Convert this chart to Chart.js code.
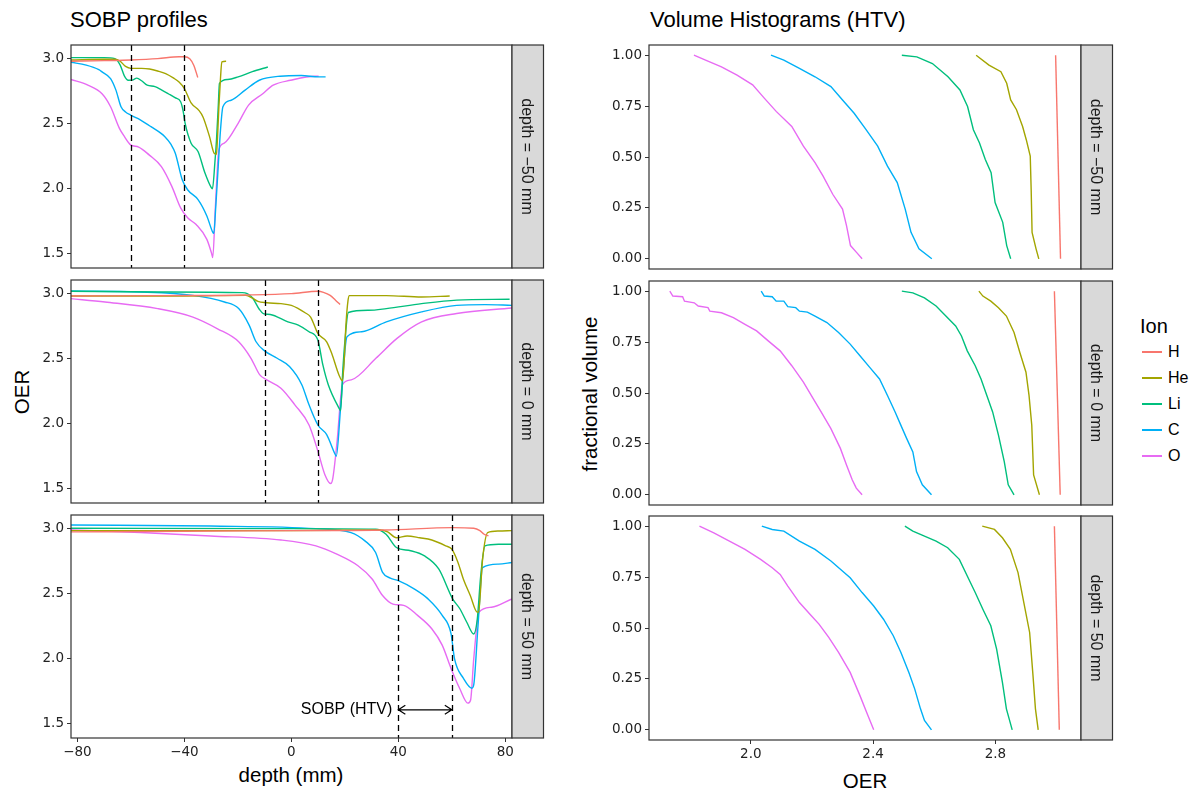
<!DOCTYPE html>
<html>
<head>
<meta charset="utf-8">
<script src="https://cdn.jsdelivr.net/npm/chart.js@4.4.1/dist/chart.umd.min.js"></script>
<style>
body { margin: 0; background: #fff; width: 1194px; height: 793px; position: relative; overflow: hidden;
       font-family: "Liberation Sans", Arial, sans-serif; }
canvas { position: absolute; }
.t { position: absolute; white-space: nowrap; color: #000; line-height: 1; }
.key { position: absolute; width: 20px; height: 1.5px; }
</style>
</head>
<body>
<div class="t" style="left:70px;top:9px;font-size:22px">SOBP profiles</div>
<div class="t" style="left:650px;top:9px;font-size:22px">Volume Histograms (HTV)</div>
<div class="t" style="left:291px;top:765px;font-size:20.5px;transform:translateX(-50%)">depth (mm)</div>
<div class="t" style="left:865px;top:771px;font-size:20.5px;transform:translateX(-50%)">OER</div>
<div class="t" style="left:22px;top:392px;font-size:20.5px;transform:translate(-50%,-50%) rotate(-90deg)">OER</div>
<div class="t" style="left:590px;top:394px;font-size:20.5px;transform:translate(-50%,-50%) rotate(-90deg)">fractional volume</div>
<div id="legend"></div>

<script>
'use strict';
// ions and colours (ggplot hue palette)
const ionNames = ['H', 'He', 'Li', 'C', 'O'];
const ionColors = ['#F8766D', '#A3A500', '#00BF7D', '#00B0F6', '#E76BF3'];
const depthLabels = ['depth = \u221250 mm', 'depth = 0 mm', 'depth = 50 mm'];

// tick labels
const depthTicks = [-80, -40, 0, 40, 80];
const oerTicks = [1.5, 2.0, 2.5, 3.0];
const htvOerTicks = [2.0, 2.4, 2.8];
const fracTicks = [0, 0.25, 0.5, 0.75, 1];

// SOBP window (dashed lines) per row, arrow height in row 3
const sobpWindows = [[-60, -40], [-10, 10], [40, 60]];
const arrowY = 1.607;
const arrowText = 'SOBP (HTV)';

// ---- SOBP profiles: [depth mm, OER] ----
// depth = -50 mm
const sobpM50H = [[-82.4,2.98],[-70,2.985],[-60,2.99],[-50,3.0],[-42,3.015],[-40,3.015],[-38,3.0],[-36.5,2.95],[-35,2.855]];
const sobpM50He = [[-82.4,2.99],[-70,2.995],[-66,2.995],[-64,2.98],[-62,2.94],[-60,2.925],[-56,2.925],[-53,2.92],[-50,2.905],[-47,2.885],[-44,2.85],[-42,2.82],[-40,2.77],[-37.5,2.66],[-34.5,2.6],[-33,2.55],[-30.6,2.4],[-28.8,2.27],[-28,2.265],[-27.6,2.4],[-27.1,2.63],[-26.5,2.85],[-26,2.975],[-24.4,2.98]];
const sobpM50Li = [[-82.4,3.008],[-70,3.008],[-66,3.0],[-64,2.95],[-62.5,2.87],[-61,2.834],[-59.5,2.835],[-57.8,2.85],[-56,2.83],[-53.9,2.796],[-51,2.785],[-48.6,2.76],[-46,2.73],[-43.5,2.7],[-41.4,2.668],[-40.5,2.6],[-39.7,2.5],[-37.5,2.35],[-34.9,2.286],[-32.3,2.12],[-30,2.01],[-29.5,2.0],[-28.6,2.2],[-28,2.375],[-27.3,2.65],[-26.9,2.81],[-23.8,2.84],[-19.9,2.86],[-14.6,2.9],[-8.8,2.936]];
const sobpM50C = [[-82.4,2.972],[-76.7,2.95],[-72,2.915],[-70.8,2.898],[-67.6,2.847],[-65.6,2.758],[-63.7,2.63],[-62,2.59],[-60.1,2.566],[-56.5,2.53],[-52.5,2.477],[-47.3,2.4],[-45,2.34],[-43.4,2.273],[-40.8,2.069],[-38.8,1.992],[-34.9,1.916],[-31.6,1.79],[-29.5,1.67],[-29,1.656],[-28.3,1.85],[-27.5,2.12],[-26.5,2.45],[-25.6,2.63],[-22.5,2.68],[-17.3,2.758],[-12,2.834],[-4.2,2.865],[3.7,2.87],[10.2,2.86],[12.8,2.86]];
const sobpM50O = [[-82.4,2.84],[-76.1,2.796],[-70.8,2.73],[-67.6,2.63],[-64.3,2.464],[-62.4,2.4],[-60.1,2.337],[-57.1,2.32],[-53.2,2.26],[-48.6,2.17],[-44.7,2.018],[-41.4,1.852],[-38.8,1.776],[-35.6,1.724],[-31.6,1.61],[-29.8,1.5],[-29.4,1.47],[-28.4,1.865],[-27.1,2.3],[-25.1,2.35],[-19.9,2.503],[-16,2.643],[-10.7,2.73],[-6.8,2.796],[-0.3,2.834],[8.9,2.865],[10.2,2.865]];
// depth = 0 mm
const sobp0H = [[-82.5,2.982],[-50,2.985],[-17,2.99],[0,3.0],[10,3.018],[12,3.01],[14.5,2.987],[16.5,2.95],[18.2,2.916]];
const sobp0He = [[-82.5,2.982],[-40,2.982],[-17,2.987],[-14.5,2.965],[-12.5,2.94],[-9.2,2.93],[-3.9,2.923],[0,2.91],[2.6,2.885],[5,2.855],[7.2,2.82],[9.9,2.694],[13.2,2.63],[15.1,2.54],[17.8,2.375],[19.1,2.33],[19.8,2.5],[20.4,2.758],[21.2,2.95],[21.7,2.985],[35.5,2.985],[48.7,2.974],[59.2,2.982]];
const sobp0Li = [[-82.5,3.018],[-50,3.013],[-18.4,3.008],[-16.5,3.0],[-14.5,2.967],[-12,2.88],[-10.5,2.847],[-7.9,2.84],[-1.3,2.783],[2.6,2.758],[6.6,2.707],[9.9,2.643],[11.8,2.45],[13.8,2.3],[17.8,2.12],[18.4,2.1],[19.2,2.4],[20,2.63],[21.3,2.855],[28.9,2.872],[35.5,2.885],[48.7,2.923],[61.8,2.95],[81.6,2.957]];
const sobp0C = [[-82.5,3.02],[-56.6,3.013],[-36.8,2.987],[-25,2.936],[-19.7,2.885],[-15.8,2.758],[-13.2,2.63],[-10,2.56],[-5.3,2.503],[-0.7,2.44],[3.9,2.3],[6.6,2.145],[9.9,1.99],[13.2,1.916],[16.4,1.763],[16.8,1.75],[18.4,2.12],[20.8,2.668],[26.3,2.707],[35.5,2.783],[48.7,2.86],[61.8,2.91],[72.4,2.916],[82.5,2.91]];
const sobp0O = [[-82.5,2.962],[-69.7,2.936],[-50,2.885],[-36.8,2.82],[-27.6,2.73],[-19.7,2.63],[-15.1,2.503],[-11.8,2.375],[-9.2,2.337],[-3.9,2.273],[1.3,2.145],[6.6,1.99],[9.9,1.79],[12.5,1.61],[14.7,1.54],[15.5,1.58],[17.1,1.865],[19.1,2.3],[22.4,2.337],[31.6,2.503],[39.5,2.656],[48.7,2.783],[61.8,2.847],[82.5,2.89]];
// depth = 50 mm
const sobp50H = [[-82.5,2.975],[-40,2.98],[0,2.985],[35.4,2.99],[60.3,3.008],[68.2,3.003],[70.5,2.985],[72.1,2.957],[73.7,2.944]];
const sobp50He = [[-82.5,2.985],[0,2.985],[33.4,2.99],[36,2.975],[39.3,2.93],[43.3,2.944],[48,2.93],[52.5,2.913],[57.7,2.868],[60,2.842],[62.3,2.74],[64.3,2.613],[66.9,2.486],[69.5,2.358],[70,2.36],[71.5,2.766],[73.4,2.97],[77.4,2.982],[82.5,2.985]];
const sobp50Li = [[-82.5,3.003],[0,3.0],[31.5,2.995],[35.4,2.957],[39.3,2.855],[44.6,2.83],[49.8,2.79],[55.1,2.69],[60.3,2.46],[63,2.384],[65.6,2.28],[68.2,2.19],[69.5,2.3],[70.8,2.638],[72.4,2.868],[77.4,2.88],[82.5,2.88]];
const sobp50C = [[-82.5,3.028],[-30.2,3.02],[9.2,3.0],[22.3,2.97],[27.5,2.906],[31.5,2.817],[34.1,2.664],[37,2.62],[40,2.6],[45.9,2.537],[51.1,2.46],[56.4,2.333],[59.7,2.193],[61,2.0],[64.3,1.85],[67.5,1.773],[68.2,1.8],[69.8,2.256],[71.5,2.7],[77.4,2.727],[82.5,2.74]];
const sobp50O = [[-82.5,2.99],[-56.4,2.97],[-30.2,2.944],[-3.9,2.913],[9.2,2.868],[17,2.804],[24.9,2.715],[30.2,2.613],[34.1,2.486],[38,2.42],[42,2.41],[47.2,2.333],[52.5,2.23],[56.4,2.104],[59.7,1.925],[62.9,1.773],[66,1.658],[67,1.68],[68.2,2.0],[70.2,2.358],[74.8,2.396],[82.5,2.46]];

// ---- Volume histograms: [OER, fractional volume] ----
// depth = -50 mm
const htvM50H = [[2.997,1.0],[3.013,0.0]];
const htvM50He = [[2.737,1.0],[2.779,0.951],[2.818,0.919],[2.837,0.862],[2.85,0.78],[2.869,0.732],[2.889,0.65],[2.901,0.585],[2.914,0.504],[2.917,0.341],[2.92,0.13],[2.933,0.049],[2.942,0.0]];
const htvM50Li = [[2.494,1.0],[2.543,0.992],[2.594,0.959],[2.645,0.894],[2.684,0.829],[2.709,0.748],[2.728,0.634],[2.748,0.569],[2.767,0.488],[2.786,0.423],[2.799,0.276],[2.824,0.179],[2.837,0.065],[2.85,0.0]];
const htvM50C = [[2.066,1.0],[2.108,0.976],[2.159,0.935],[2.21,0.894],[2.262,0.846],[2.3,0.78],[2.338,0.715],[2.377,0.634],[2.415,0.553],[2.447,0.455],[2.479,0.374],[2.505,0.244],[2.524,0.13],[2.55,0.049],[2.592,0.0]];
const htvM50O = [[1.814,1.0],[1.852,0.976],[1.904,0.943],[1.955,0.902],[2.006,0.854],[2.044,0.789],[2.083,0.724],[2.134,0.65],[2.172,0.553],[2.21,0.472],[2.236,0.407],[2.268,0.317],[2.3,0.244],[2.313,0.163],[2.326,0.065],[2.345,0.033],[2.364,0.0]];
// depth = 0 mm
const htv0H = [[2.993,1.0],[3.012,0.0]];
const htv0He = [[2.746,1.0],[2.759,0.976],[2.785,0.951],[2.81,0.919],[2.836,0.878],[2.861,0.797],[2.88,0.699],[2.9,0.602],[2.91,0.488],[2.919,0.341],[2.925,0.098],[2.944,0.0]];
const htv0Li = [[2.494,1.0],[2.53,0.992],[2.568,0.967],[2.606,0.927],[2.638,0.878],[2.67,0.829],[2.689,0.78],[2.708,0.707],[2.734,0.634],[2.753,0.569],[2.772,0.488],[2.791,0.407],[2.81,0.293],[2.829,0.163],[2.842,0.049],[2.861,0.0]];
const htv0C = [[2.034,1.0],[2.044,0.976],[2.07,0.973],[2.083,0.951],[2.108,0.951],[2.121,0.924],[2.147,0.919],[2.159,0.902],[2.185,0.897],[2.21,0.878],[2.249,0.846],[2.287,0.797],[2.325,0.74],[2.357,0.683],[2.389,0.626],[2.421,0.569],[2.447,0.488],[2.472,0.407],[2.491,0.341],[2.51,0.276],[2.53,0.211],[2.542,0.114],[2.561,0.049],[2.591,0.0]];
const htv0O = [[1.735,1.0],[1.745,0.976],[1.777,0.973],[1.783,0.951],[1.815,0.943],[1.828,0.927],[1.86,0.919],[1.866,0.902],[1.904,0.894],[1.943,0.87],[1.981,0.837],[2.019,0.805],[2.057,0.756],[2.096,0.707],[2.134,0.634],[2.172,0.553],[2.204,0.472],[2.23,0.407],[2.262,0.325],[2.293,0.228],[2.313,0.146],[2.332,0.073],[2.345,0.033],[2.364,0.0]];
// depth = 50 mm
const htv50H = [[2.993,1.0],[3.009,0.0]];
const htv50He = [[2.757,1.0],[2.797,0.984],[2.823,0.943],[2.849,0.886],[2.874,0.772],[2.893,0.625],[2.912,0.478],[2.923,0.266],[2.931,0.103],[2.94,0.0]];
const htv50Li = [[2.504,1.0],[2.53,0.976],[2.568,0.951],[2.606,0.927],[2.644,0.894],[2.682,0.837],[2.708,0.755],[2.734,0.674],[2.759,0.592],[2.785,0.511],[2.804,0.396],[2.823,0.233],[2.836,0.103],[2.855,0.0]];
const htv50C = [[2.036,1.0],[2.07,0.984],[2.108,0.976],[2.159,0.927],[2.21,0.886],[2.262,0.829],[2.325,0.747],[2.364,0.674],[2.402,0.608],[2.434,0.543],[2.466,0.462],[2.491,0.38],[2.517,0.282],[2.536,0.201],[2.555,0.103],[2.568,0.046],[2.591,0.0]];
const htv50O = [[1.832,1.0],[1.879,0.967],[1.93,0.927],[1.981,0.886],[2.032,0.837],[2.07,0.796],[2.096,0.763],[2.121,0.706],[2.159,0.625],[2.198,0.56],[2.223,0.519],[2.255,0.454],[2.287,0.38],[2.325,0.282],[2.357,0.168],[2.383,0.07],[2.402,0.0]];

const sobpRows = [
    [sobpM50H, sobpM50He, sobpM50Li, sobpM50C, sobpM50O],
    [sobp0H, sobp0He, sobp0Li, sobp0C, sobp0O],
    [sobp50H, sobp50He, sobp50Li, sobp50C, sobp50O]
];
const htvRows = [
    [htvM50H, htvM50He, htvM50Li, htvM50C, htvM50O],
    [htv0H, htv0He, htv0Li, htv0C, htv0O],
    [htv50H, htv50He, htv50Li, htv50C, htv50O]
];

const fontFamily = '"Liberation Sans", Arial, sans-serif';
const tickFamily = '"DejaVu Sans", "Liberation Sans", sans-serif';
const tickColor = '#222';
const frameColor = '#333';

// frame, facet strip, dashed lines and arrow
const panelDeco = {
    id: 'panelDeco',
    afterDatasetsDraw(chart, args, o) {
        const ctx = chart.ctx;
        const a = chart.chartArea;
        const xs = chart.scales.x, ys = chart.scales.y;
        ctx.save();
        if (o.window) {
            ctx.strokeStyle = '#000';
            ctx.lineWidth = 1.3;
            ctx.setLineDash([6, 4]);
            o.window.forEach(function (v) {
                let px = Math.round(xs.getPixelForValue(v)) + 0.5;
                ctx.beginPath();
                ctx.moveTo(px, a.top);
                ctx.lineTo(px, a.bottom);
                ctx.stroke();
            });
            ctx.setLineDash([]);
        }
        if (o.arrow) {
            let x1 = xs.getPixelForValue(o.window[0]);
            let x2 = xs.getPixelForValue(o.window[1]);
            let py = ys.getPixelForValue(arrowY);
            ctx.lineWidth = 1.2;
            ctx.beginPath();
            ctx.moveTo(x1, py); ctx.lineTo(x2, py);
            ctx.moveTo(x1 + 7, py - 4.5); ctx.lineTo(x1, py); ctx.lineTo(x1 + 7, py + 4.5);
            ctx.moveTo(x2 - 7, py - 4.5); ctx.lineTo(x2, py); ctx.lineTo(x2 - 7, py + 4.5);
            ctx.stroke();
            ctx.fillStyle = '#000';
            ctx.font = '16px ' + fontFamily;
            ctx.textAlign = 'right';
            ctx.textBaseline = 'middle';
            ctx.fillText(arrowText, x1 - 6, py);
        }
        // panel border
        ctx.strokeStyle = frameColor;
        ctx.lineWidth = 1.2;
        ctx.strokeRect(a.left, a.top, a.right - a.left, a.bottom - a.top);
        // strip
        let sw = 31.5;
        ctx.fillStyle = '#D9D9D9';
        ctx.fillRect(a.right, a.top, sw, a.bottom - a.top);
        ctx.strokeRect(a.right, a.top, sw, a.bottom - a.top);
        ctx.translate(a.right + sw / 2, (a.top + a.bottom) / 2);
        ctx.rotate(Math.PI / 2);
        ctx.fillStyle = '#1a1a1a';
        ctx.font = '16px ' + fontFamily;
        ctx.textAlign = 'center';
        ctx.textBaseline = 'middle';
        ctx.fillText(o.strip, 0, 1);
        ctx.restore();
    }
};

function fmtDepth(v) { return v < 0 ? '\u2212' + Math.abs(v) : String(v); }

function makePanel(p) {
    let cv = document.createElement('canvas');
    cv.width = p.w; cv.height = p.h;
    cv.style.left = p.left + 'px';
    cv.style.top = p.top + 'px';
    document.body.appendChild(cv);
    let tickFont = { size: 13.5, family: tickFamily };
    return new Chart(cv.getContext('2d'), {
        type: 'line',
        data: {
            datasets: p.series.map(function (s, i) {
                return {
                    label: ionNames[i],
                    data: s.map(function (pt) { return { x: pt[0], y: pt[1] }; }),
                    borderColor: ionColors[i],
                    borderWidth: 1.4,
                    pointRadius: 0,
                    fill: false,
                    cubicInterpolationMode: p.smooth ? 'monotone' : 'default',
                    tension: 0
                };
            })
        },
        options: {
            responsive: false,
            animation: false,
            devicePixelRatio: 1,
            layout: { padding: { left: 0, right: p.padRight, top: 12, bottom: p.showX ? 0 : 12 } },
            plugins: {
                legend: { display: false },
                tooltip: { enabled: false },
                panelDeco: { strip: p.strip, window: p.window, arrow: p.arrow }
            },
            scales: {
                x: {
                    type: 'linear',
                    min: p.xMin, max: p.xMax,
                    display: p.showX,
                    afterBuildTicks: function (s) { s.ticks = p.xTicks.map(function (v) { return { value: v }; }); },
                    afterFit: function (s) { if (p.showX) { s.height = 45; } },
                    grid: { drawOnChartArea: false, tickLength: 4, color: frameColor, tickColor: frameColor },
                    border: { display: false },
                    ticks: { font: tickFont, color: tickColor, padding: 2, maxRotation: 0, autoSkip: false, callback: p.xFmt }
                },
                y: {
                    type: 'linear',
                    min: p.yMin, max: p.yMax,
                    afterBuildTicks: function (s) { s.ticks = p.yTicks.map(function (v) { return { value: v }; }); },
                    afterFit: function (s) { s.width = p.yWidth; },
                    grid: { drawOnChartArea: false, tickLength: 4, color: frameColor, tickColor: frameColor },
                    border: { display: false },
                    ticks: { font: tickFont, color: tickColor, padding: 3, autoSkip: false, callback: p.yFmt }
                }
            }
        },
        plugins: [panelDeco]
    });
}

const leftTops = [45, 280, 515];
const rightTops = [45, 281, 516];

for (let r = 0; r < 3; r++) {
    let last = r === 2;
    makePanel({
        left: 0, top: leftTops[r] - 12, w: 560, h: 12 + 223 + (last ? 45 : 12),
        padRight: 560 - 512, yWidth: 71, showX: last, smooth: true,
        xMin: -82.4, xMax: 82.5, yMin: 1.39, yMax: 3.105,
        xTicks: depthTicks, yTicks: oerTicks,
        xFmt: fmtDepth, yFmt: function (v) { return v.toFixed(1); },
        series: sobpRows[r], strip: depthLabels[r],
        window: sobpWindows[r], arrow: last
    });
    makePanel({
        left: 580, top: rightTops[r] - 12, w: 545, h: 12 + 224 + (last ? 45 : 12),
        padRight: 545 - (1081 - 580), yWidth: 649 - 580, showX: last, smooth: false,
        xMin: 1.667, xMax: 3.08, yMin: -0.05, yMax: 1.05,
        xTicks: htvOerTicks, yTicks: fracTicks,
        xFmt: function (v) { return v.toFixed(1); }, yFmt: function (v) { return v.toFixed(2); },
        series: htvRows[r], strip: depthLabels[r]
    });
}

// legend
let legendEl = document.getElementById('legend');
let html = '<div class="t" style="left:1140px;top:316px;font-size:20px">Ion</div>';
for (let i = 0; i < ionNames.length; i++) {
    let y = 352 + i * 26;
    html += '<div class="key" style="left:1142px;top:' + (y - 0.75) + 'px;background:' + ionColors[i] + '"></div>';
    html += '<div class="t" style="left:1168px;top:' + (y - 8) + 'px;font-size:16px">' + ionNames[i] + '</div>';
}
legendEl.innerHTML = html;
</script>
</body>
</html>
